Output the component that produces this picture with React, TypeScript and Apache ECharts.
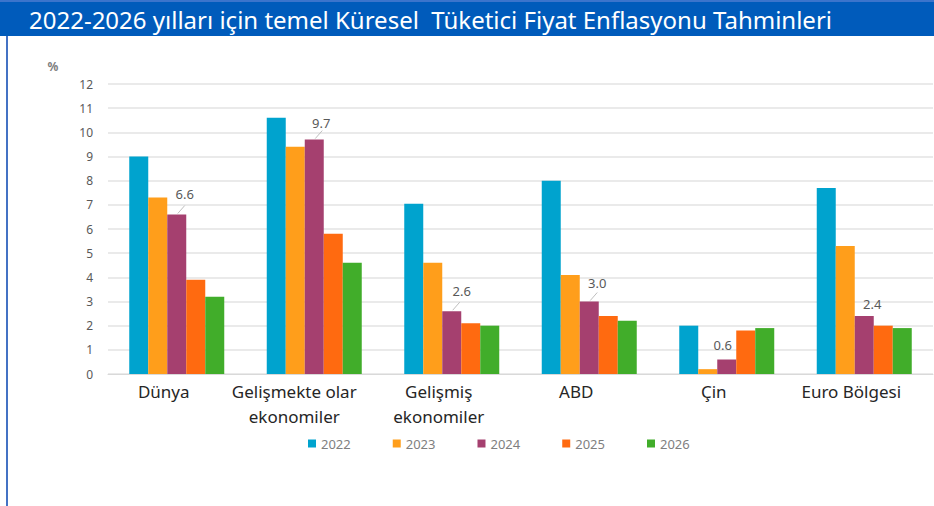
import React, { useEffect, useRef } from "react";
import * as echarts from "echarts";

const categories = ["Dünya", "Gelişmekte olar\nekonomiler", "Gelişmiş\nekonomiler", "ABD", "Çin", "Euro Bölgesi"];
const years = ["2022", "2023", "2024", "2025", "2026"];
const v2022 = [9.0, 10.6, 7.05, 8.0, 2.0, 7.7];
const v2023 = [7.3, 9.4, 4.6, 4.1, 0.2, 5.3];
const v2024 = [6.6, 9.7, 2.6, 3.0, 0.6, 2.4];
const v2025 = [3.9, 5.8, 2.1, 2.4, 1.8, 2.0];
const v2026 = [3.2, 4.6, 2.0, 2.2, 1.9, 1.9];
const yTicks = [0, 12, 1];
const colors = ["#00A3CE", "#FF9E1B", "#A5406F", "#FF6A10", "#41AD2A"];
const labelShift = [[8, -10], [7, -6], [10, -10], [8, -8], [-4, -4], [8, -2]];
const leaderLineCats = [0, 1, 2, 3];

export default function App() {
  const ref = useRef<HTMLDivElement>(null);
  useEffect(() => {
    document.body.style.margin = "0";
    const chart = echarts.init(ref.current!, null, { renderer: "svg" });
    const all = [v2022, v2023, v2024, v2025, v2026];
    const series: any[] = all.map((vals, i) => ({
      name: years[i],
      type: "bar",
      barWidth: 19,
      barGap: "0%",
      itemStyle: { color: colors[i] },
      data: vals.map((v, j) => (i === 2 ? { value: v, label: { offset: labelShift[j] } } : v)),
      label: {
        show: i === 2,
        position: "top",
        distance: 4,
        color: "#595959",
        fontSize: 13,
        fontFamily: "Noto Sans",
        formatter: (p: any) => Number(p.value).toFixed(1),
      },
    }));
    series.push({
      name: "leader",
      type: "custom",
      silent: true,
      z: 3,
      data: leaderLineCats.map((c) => [c, v2024[c]]),
      renderItem: (_params: any, api: any) => {
        const p = api.coord([api.value(0), api.value(1)]);
        return {
          type: "line",
          shape: { x1: p[0] + 1, y1: p[1] - 1, x2: p[0] + 8, y2: p[1] - 9 },
          style: { stroke: "#bfbfbf", lineWidth: 1 },
        };
      },
    });
    chart.setOption({
      animation: false,
      title: {
        text: "2022-2026 yılları için temel Küresel  Tüketici Fiyat Enflasyonu Tahminleri",
        left: 24,
        top: 2,
        textStyle: { color: "#ffffff", fontSize: 24, fontWeight: "normal", fontFamily: "Noto Sans" },
      },
      graphic: [
        { type: "rect", z: -1, shape: { x: 0, y: 0, width: 934, height: 36 }, style: { fill: "#005BBB" } },
        { type: "rect", z: -1, shape: { x: 0, y: 0, width: 934, height: 2 }, style: { fill: "#3B74CC" } },
        { type: "rect", z: -1, shape: { x: 6, y: 36, width: 2, height: 470 }, style: { fill: "#4472C4" } },
        {
          type: "text",
          x: 53,
          y: 66,
          style: { text: "%", fill: "#7f7f7f", fontSize: 12, fontFamily: "Noto Sans", fontWeight: "bold", align: "center", verticalAlign: "middle" },
        },
      ],
      legend: {
        data: years,
        left: 303,
        top: 432,
        itemWidth: 8,
        itemHeight: 8,
        itemGap: 42,
        icon: "rect",
        textStyle: { color: "#7f7f7f", fontSize: 13, fontFamily: "Noto Sans" },
      },
      grid: { left: 108, right: 1, top: 84, bottom: 132, containLabel: false },
      xAxis: {
        type: "category",
        data: categories,
        axisLine: { lineStyle: { color: "#d9d9d9" } },
        axisTick: { show: false },
        axisLabel: {
          color: "#262626",
          fontSize: 17,
          fontFamily: "Noto Sans",
          lineHeight: 25,
          margin: 5,
          padding: [0, 26, 0, 0],
          interval: 0,
          formatter: (value: string, index: number) =>
            index === 1 ? value.split("\n").map((s) => `{g|${s}}`).join("\n") : value,
          rich: {
            g: { color: "#262626", fontSize: 17, fontFamily: "Noto Sans", lineHeight: 25, padding: [0, 14, 0, 0] },
          },
        },
      },
      yAxis: {
        type: "value",
        min: yTicks[0],
        max: yTicks[1],
        interval: yTicks[2],
        axisLine: { show: false },
        axisTick: { show: false },
        splitLine: { lineStyle: { color: "#e3e3e3", width: 1.5 } },
        axisLabel: { color: "#595959", fontSize: 12, fontFamily: "Noto Sans", margin: 15 },
      },
      series,
    });
    return () => chart.dispose();
  }, []);
  return <div ref={ref} style={{ width: 934, height: 506 }} />;
}
